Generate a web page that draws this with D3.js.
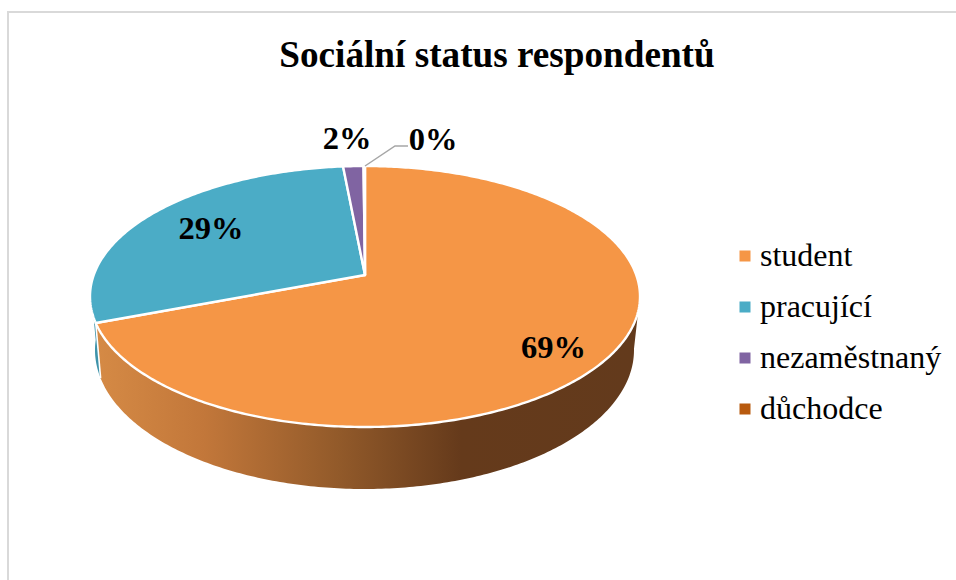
<!DOCTYPE html>
<html><head><meta charset="utf-8">
<script src="https://cdn.jsdelivr.net/npm/d3@7"></script>
<style>html,body{margin:0;padding:0;background:#fff}svg{display:block}text{font-family:"Liberation Serif",serif;fill:#000}</style>
</head><body><svg id="c" width="956" height="580"></svg>
<script>
const categories=["student","pracující","nezaměstnaný","důchodce"];
const values=[69.2,29.3,1.4,0.1];
const valueLabels=["69%","29%","2%","0%"];
const colors=["#F59646","#4BACC6","#8064A2","#B85A0F"];
const title="Sociální status respondentů";

const svg=d3.select("#c");
svg.append("path").attr("d","M8,580V12H956").attr("fill","none").attr("stroke","#D9D9D9").attr("stroke-width",2);
svg.append("text").attr("x",497).attr("y",67).attr("text-anchor","middle").attr("font-size",37.2).attr("font-weight","bold").text(title);

const pie=d3.pie().sort(null).value(d=>d).startAngle(0).endAngle(2*Math.PI);
const arcs=pie(values);

const k=0.165;
const project=a=>{const x=Math.sin(a),y=-Math.cos(a),w=1-k*y;return [x*Math.sqrt(1-k*k)/w,(y-k)/w];};
const topX=d3.scaleLinear([-1,1],[90,640]),topY=d3.scaleLinear([-1,1],[166,427]);
const botX=d3.scaleLinear([-1,1],[95,634]),botY=d3.scaleLinear([-1,1],[211,489]);
const topP=a=>{const p=project(a);return [topX(p[0]),topY(p[1])];};
const botP=a=>{const p=project(a);return [botX(p[0]),botY(p[1])];};
const sample=(a0,a1,f)=>{const n=Math.max(2,Math.ceil(Math.abs(a1-a0)*80));return d3.range(n+1).map(i=>f(a0+(a1-a0)*i/n));};
const line=d3.line();

const defs=svg.append("defs");
const g1=defs.append("linearGradient").attr("id","wallO").attr("gradientUnits","userSpaceOnUse").attr("x1",97).attr("x2",633).attr("y1",0).attr("y2",0);
[[0,"#D58A45"],[0.2,"#C2773A"],[0.45,"#925A2A"],[0.68,"#653A1B"],[1,"#633A1C"]].forEach(s=>g1.append("stop").attr("offset",s[0]).attr("stop-color",s[1]));

const wall=(a0,a1,fill)=>svg.append("path").attr("fill",fill)
  .attr("d",line(sample(a0,a1,topP).concat(sample(a1,a0,botP)))+"Z");
wall(arcs[0].endAngle-0.01,Math.PI*1.47,"#3E93AA");
wall(Math.PI*0.55,arcs[0].endAngle,"url(#wallO)");
svg.append("path").attr("fill","none").attr("stroke","#fff").attr("stroke-width",1.6)
  .attr("d",line([topP(arcs[0].endAngle),botP(arcs[0].endAngle)]));

const centre=[topX(0),topY(-k)];
svg.selectAll("path.slice").data(arcs).join("path").attr("class","slice")
  .attr("fill",(d,i)=>colors[i]).attr("stroke","#fff").attr("stroke-width",2.4).attr("stroke-linejoin","round")
  .attr("d",d=>line([centre].concat(sample(d.startAngle,d.endAngle,topP)))+"Z");

svg.append("path").attr("fill","none").attr("stroke","#A6A6A6").attr("stroke-width",1.5)
  .attr("d",line([[365,166],[395,146],[408,146]]));

const lblPos=[[553.5,358],[211,239],[347,149],[433,150]];
svg.selectAll("text.v").data(valueLabels).join("text").attr("class","v")
  .attr("x",(d,i)=>lblPos[i][0]).attr("y",(d,i)=>lblPos[i][1]).attr("text-anchor","middle")
  .attr("font-size",32.5).attr("font-weight","bold").text(d=>d);

const legY=d3.scalePoint(categories,[256,409]);
const leg=svg.selectAll("g.l").data(categories).join("g").attr("class","l").attr("transform",d=>`translate(0,${legY(d)})`);
leg.append("rect").attr("x",739.5).attr("y",-5.5).attr("width",11).attr("height",11).attr("fill",(d,i)=>colors[i]);
leg.append("text").attr("x",760).attr("y",10).attr("font-size",32).text(d=>d);
</script></body></html>
